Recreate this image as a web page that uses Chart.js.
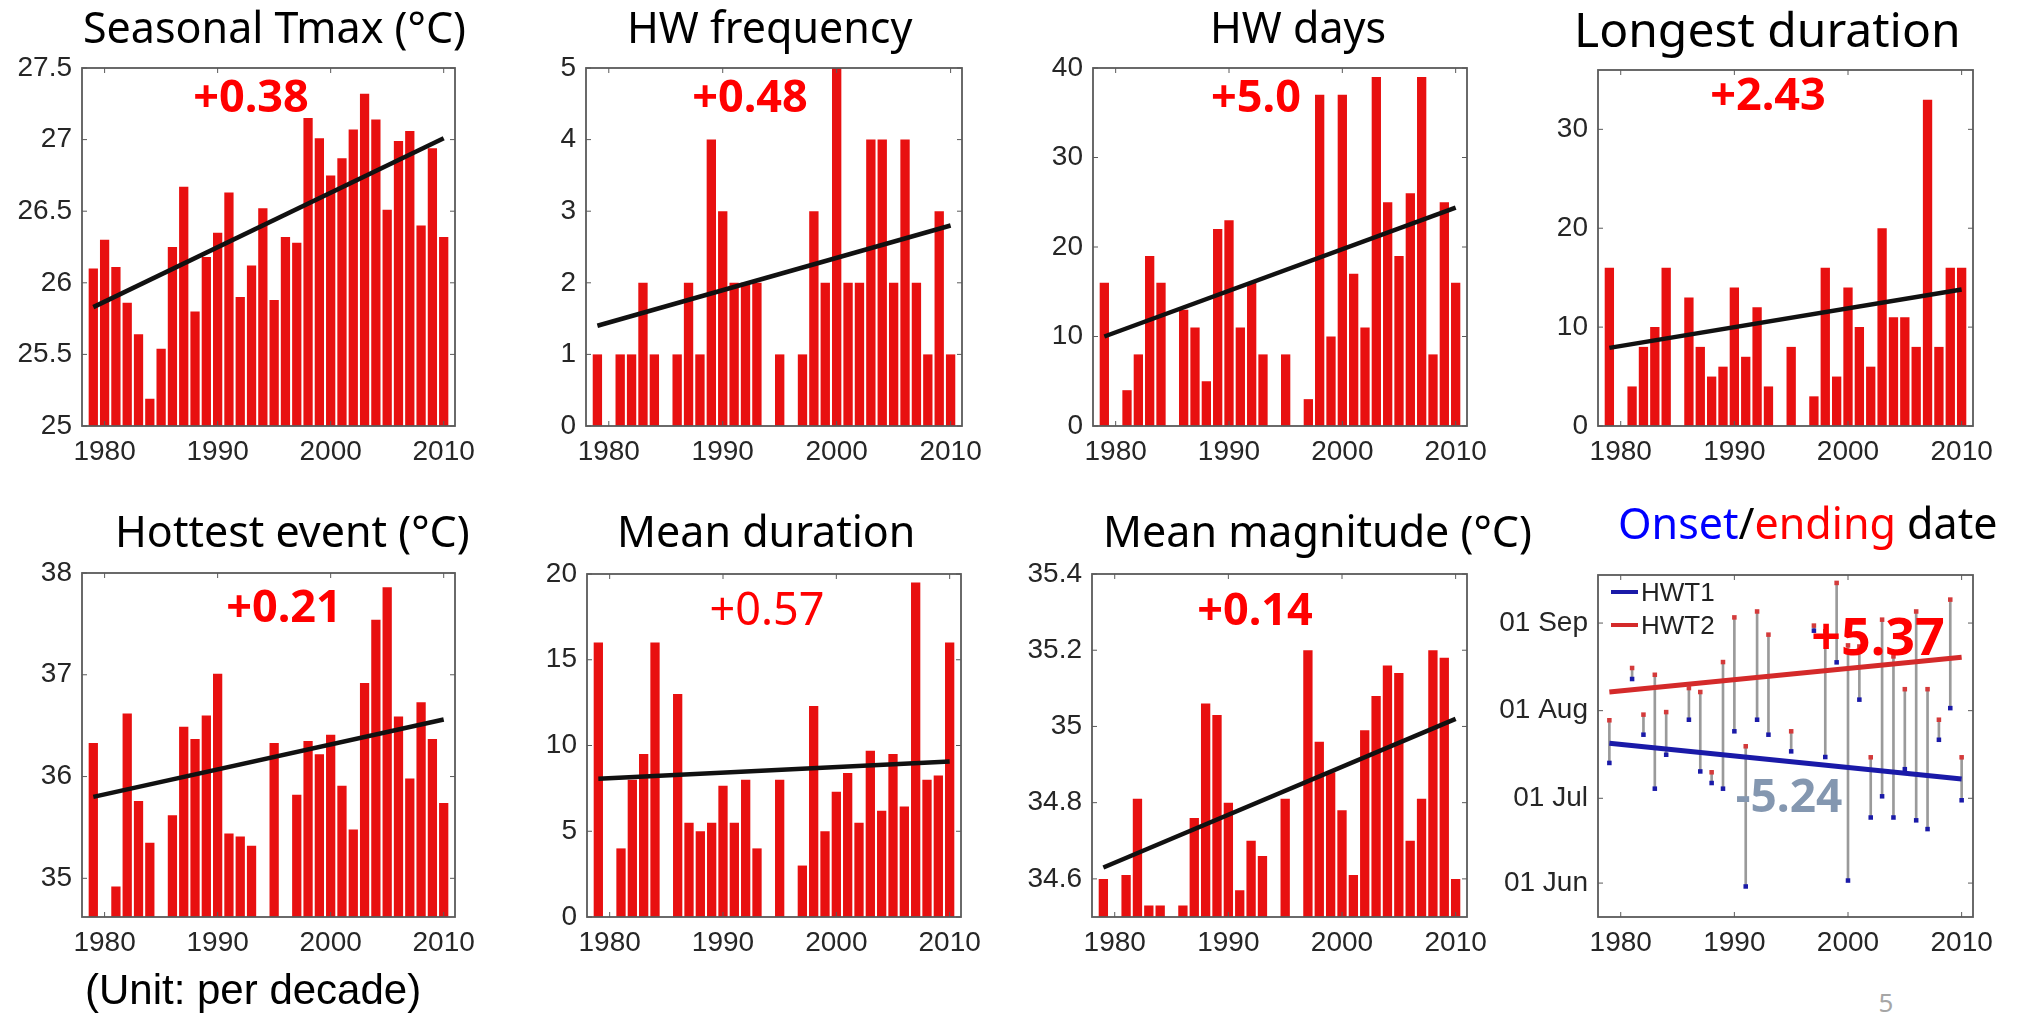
<!DOCTYPE html>
<html>
<head>
<meta charset="utf-8">
<script src="https://cdn.jsdelivr.net/npm/chart.js@4.4.0/dist/chart.umd.min.js"></script>
<style>
  body { margin: 0; width: 2018px; height: 1033px; background: #fff; position: relative; overflow: hidden; }
  canvas { position: absolute; }
  .txt { position: absolute; white-space: nowrap; line-height: 1; font-family: "Noto Sans", sans-serif; }
</style>
</head>
<body>
<script>
// Years and axis ticks
const years = [1979, 1980, 1981, 1982, 1983, 1984, 1985, 1986, 1987, 1988, 1989, 1990, 1991, 1992, 1993, 1994,
               1995, 1996, 1997, 1998, 1999, 2000, 2001, 2002, 2003, 2004, 2005, 2006, 2007, 2008, 2009, 2010];
const xTicks = [1980, 1990, 2000, 2010];
const trendYears = [1979, 2010];

// Seasonal Tmax
const tmax = [26.10, 26.30, 26.11, 25.86, 25.64, 25.19, 25.54, 26.25, 26.67, 25.80, 26.18, 26.35, 26.63, 25.90, 26.12, 26.52,
              25.88, 26.32, 26.28, 27.15, 27.01, 26.75, 26.87, 27.07, 27.32, 27.14, 26.51, 26.99, 27.06, 26.40, 26.94, 26.32];
const tmaxTrend = [25.83, 27.01];
const tmaxTicks = [25, 25.5, 26, 26.5, 27, 27.5];

// HW frequency
const hwFreq = [1, 0, 1, 1, 2, 1, 0, 1, 2, 1, 4, 3, 2, 2, 2, 0,
                1, 0, 1, 3, 2, 5, 2, 2, 4, 4, 2, 4, 2, 1, 3, 1];
const hwFreqTrend = [1.40, 2.80];
const hwFreqTicks = [0, 1, 2, 3, 4, 5];

// HW days
const hwDays = [16, 0, 4, 8, 19, 16, 0, 13, 11, 5, 22, 23, 11, 16, 8, 0,
                8, 0, 3, 37, 10, 37, 17, 11, 39, 25, 19, 26, 39, 8, 25, 16];
const hwDaysTrend = [10.0, 24.4];
const hwDaysTicks = [0, 10, 20, 30, 40];

// Longest duration
const longest = [16, 0, 4, 8, 10, 16, 0, 13, 8, 5, 6, 14, 7, 12, 4, 0,
                 8, 0, 3, 16, 5, 14, 10, 6, 20, 11, 11, 8, 33, 8, 16, 16];
const longestTrend = [7.9, 13.8];
const longestTicks = [0, 10, 20, 30];

// Hottest event
const hottest = [36.33, null, 34.92, 36.62, 35.76, 35.35, null, 35.62, 36.49, 36.37, 36.60, 37.01, 35.44, 35.41, 35.32, null,
                 36.33, null, 35.82, 36.35, 36.22, 36.41, 35.91, 35.48, 36.92, 37.54, 37.86, 36.59, 35.98, 36.73, 36.37, 35.74];
const hottestTrend = [35.80, 36.56];
const hottestTicks = [35, 36, 37, 38];

// Mean duration
const meanDur = [16, null, 4, 8, 9.5, 16, null, 13, 5.5, 5, 5.5, 7.65, 5.5, 8, 4, null,
                 8, null, 3, 12.3, 5, 7.3, 8.4, 5.5, 9.7, 6.2, 9.5, 6.45, 19.5, 8, 8.25, 16];
const meanDurTrend = [8.06, 9.07];
const meanDurTicks = [0, 5, 10, 15, 20];

// Mean magnitude
const meanMag = [34.60, null, 34.61, 34.81, 34.53, 34.53, null, 34.53, 34.76, 35.06, 35.03, 34.80, 34.57, 34.70, 34.66, null,
                 34.81, null, 35.20, 34.96, 34.88, 34.78, 34.61, 34.99, 35.08, 35.16, 35.14, 34.70, 34.81, 35.20, 35.18, 34.60];
const meanMagTrend = [34.63, 35.02];
const meanMagTicks = [34.6, 34.8, 35, 35.2, 35.4];

// Onset / ending date (day of year)
const onset = [194.5, null, 224.2, 204.5, 185.4, 197.4, null, 209.8, 191.5, 187.4, 185.4, 205.7, 150.8, 209.8, 204.5, null,
               198.6, null, 241.3, 196.6, 230.1, 152.9, 216.9, 175.2, 182.7, 175.2, 192.3, 174.2, 171.1, 202.7, 213.9, 181.3];
const ending = [209.6, null, 228.1, 211.6, 225.7, 212.5, null, 221.0, 219.6, 191.2, 230.2, 246.0, 200.4, 248.1, 239.9, null,
                205.7, null, 243.1, 241.1, 258.2, 236.1, 235.7, 196.5, 245.2, 232.2, 220.6, 248.1, 220.6, 209.8, 252.3, 196.5];
const onsetTrend = [201.5, 188.8];
const endingTrend = [219.6, 231.9];
const dateTicks = [152, 182, 213, 244];
const dateTickLabels = ["01 Jun", "01 Jul", "01 Aug", "01 Sep"];
const seriesNames = ["HWT1", "HWT2"];

const TP = 30, RP = 40, XH = 50;
const RED = '#e81010';
Chart.defaults.font.family = '"Liberation Sans", Arial, sans-serif';

// frame with inward tick marks (matlab style)
const framePlugin = {
  id: 'frame',
  afterDatasetsDraw(chart) {
    const { ctx, chartArea: a, scales } = chart;
    ctx.save();
    ctx.strokeStyle = '#5a5a5a';
    ctx.lineWidth = 1;
    ctx.beginPath();
    scales.x.ticks.forEach(t => {
      const px = scales.x.getPixelForValue(t.value);
      ctx.moveTo(px, a.bottom); ctx.lineTo(px, a.bottom - 5);
      ctx.moveTo(px, a.top); ctx.lineTo(px, a.top + 5);
    });
    scales.y.ticks.forEach(t => {
      const py = scales.y.getPixelForValue(t.value);
      ctx.moveTo(a.left, py); ctx.lineTo(a.left + 5, py);
      ctx.moveTo(a.right, py); ctx.lineTo(a.right - 5, py);
    });
    ctx.stroke();
    ctx.lineWidth = 1.8;
    ctx.strokeRect(a.left, a.top, a.right - a.left, a.bottom - a.top);
    ctx.restore();
  }
};

function addCanvas(box, yw) {
  const c = document.createElement('canvas');
  c.width = box.w + yw + RP;
  c.height = box.h + TP + XH;
  c.style.left = (box.l - yw) + 'px';
  c.style.top = (box.t - TP) + 'px';
  document.body.appendChild(c);
  return c;
}

function scalesFor(yMin, yMax, yTicks, yw, yLabel) {
  return {
    x: {
      type: 'linear', min: 1978, max: 2011, offset: false,
      afterBuildTicks: s => { s.ticks = xTicks.map(v => ({ value: v })); },
      afterFit: s => { s.height = XH; },
      grid: { display: false, drawTicks: false },
      border: { display: false },
      ticks: { font: { size: 28 }, color: '#262626', padding: 9, maxRotation: 0, autoSkip: false, callback: v => String(v) }
    },
    y: {
      min: yMin, max: yMax,
      afterBuildTicks: s => { s.ticks = yTicks.map(v => ({ value: v })); },
      afterFit: s => { s.width = yw; },
      grid: { display: false, drawTicks: false },
      border: { display: false },
      ticks: { font: { size: 28 }, color: '#262626', padding: 10, autoSkip: false, callback: yLabel || (v => String(v)) }
    }
  };
}

function barPanel(box, values, trend, yTicks, yMin, yMax) {
  const yw = 90;
  new Chart(addCanvas(box, yw), {
    type: 'bar',
    data: {
      datasets: [
        {
          type: 'line',
          data: trendYears.map((yr, i) => ({ x: yr, y: trend[i] })),
          borderColor: '#111', borderWidth: 4.5, pointRadius: 0, order: 0
        },
        {
          type: 'bar',
          data: years.map((yr, i) => ({ x: yr, y: values[i] })),
          backgroundColor: RED, barPercentage: 0.82, categoryPercentage: 1, order: 1
        }
      ]
    },
    options: {
      responsive: false, animation: false,
      layout: { padding: { top: TP, right: RP, left: 0, bottom: 0 } },
      plugins: { legend: { display: false }, tooltip: { enabled: false } },
      scales: scalesFor(yMin, yMax, yTicks, yw)
    },
    plugins: [framePlugin]
  });
}

barPanel({ l: 82, t: 68, w: 373, h: 358 }, tmax, tmaxTrend, tmaxTicks, 25, 27.5);
barPanel({ l: 586, t: 68, w: 376, h: 358 }, hwFreq, hwFreqTrend, hwFreqTicks, 0, 5);
barPanel({ l: 1093, t: 68, w: 374, h: 358 }, hwDays, hwDaysTrend, hwDaysTicks, 0, 40);
barPanel({ l: 1598, t: 70, w: 375, h: 356 }, longest, longestTrend, longestTicks, 0, 36);
barPanel({ l: 82, t: 573, w: 373, h: 344 }, hottest, hottestTrend, hottestTicks, 34.62, 38);
barPanel({ l: 587, t: 574, w: 374, h: 343 }, meanDur, meanDurTrend, meanDurTicks, 0, 20);
barPanel({ l: 1092, t: 574, w: 375, h: 343 }, meanMag, meanMagTrend, meanMagTicks, 34.5, 35.4);

// legend inside the date panel
const dateLegend = {
  id: 'dateLegend',
  afterDraw(chart) {
    const { ctx, chartArea: a } = chart;
    const cols = ['#1a1aa8', '#d42a2a'];
    ctx.save();
    ctx.font = '26px "Liberation Sans", Arial, sans-serif';
    ctx.fillStyle = '#222';
    seriesNames.forEach((name, i) => {
      const y = a.top + 17 + i * 33;
      ctx.strokeStyle = cols[i];
      ctx.lineWidth = 4;
      ctx.beginPath(); ctx.moveTo(a.left + 13, y); ctx.lineTo(a.left + 40, y); ctx.stroke();
      ctx.fillText(name, a.left + 43, y + 9);
    });
    ctx.restore();
  }
};

(function datePanel() {
  const box = { l: 1598, t: 575, w: 375, h: 342 };
  const yw = 110;
  new Chart(addCanvas(box, yw), {
    type: 'bar',
    data: {
      datasets: [
        {
          type: 'bar',
          data: years.map((yr, i) => ({ x: yr, y: onset[i] == null ? null : [onset[i], ending[i]] })),
          backgroundColor: '#9a9a9a', barThickness: 2, order: 3
        },
        {
          type: 'line', label: seriesNames[0],
          data: trendYears.map((yr, i) => ({ x: yr, y: onsetTrend[i] })),
          borderColor: '#1a1aa8', borderWidth: 5, pointRadius: 0, order: 2
        },
        {
          type: 'line', label: seriesNames[1],
          data: trendYears.map((yr, i) => ({ x: yr, y: endingTrend[i] })),
          borderColor: '#d42a2a', borderWidth: 5, pointRadius: 0, order: 2
        },
        {
          type: 'line', showLine: false,
          data: years.map((yr, i) => ({ x: yr, y: onset[i] })),
          pointStyle: 'rect', pointRadius: 3.2, pointBorderWidth: 0, pointBackgroundColor: '#1a1aa8', order: 1
        },
        {
          type: 'line', showLine: false,
          data: years.map((yr, i) => ({ x: yr, y: ending[i] })),
          pointStyle: 'rect', pointRadius: 3.2, pointBorderWidth: 0, pointBackgroundColor: '#d43a3a', order: 1
        }
      ]
    },
    options: {
      responsive: false, animation: false,
      layout: { padding: { top: TP, right: RP, left: 0, bottom: 0 } },
      plugins: { legend: { display: false }, tooltip: { enabled: false } },
      scales: scalesFor(140, 261, dateTicks, yw, v => dateTickLabels[dateTicks.indexOf(v)])
    },
    plugins: [framePlugin, dateLegend]
  });
})();

// titles and trend labels (html text)
function addText(html, x, baseline, size, opts) {
  opts = opts || {};
  const d = document.createElement('div');
  d.className = 'txt';
  d.innerHTML = html;
  d.style.fontSize = size + 'px';
  if (opts.family) d.style.fontFamily = opts.family;
  if (opts.weight) d.style.fontWeight = opts.weight;
  d.style.color = opts.color || '#000';
  const asc = opts.asc || 0.888;
  d.style.top = (baseline - asc * size) + 'px';
  d.style.left = x + 'px';
  if (opts.center) d.style.transform = 'translateX(-50%)';
  document.body.appendChild(d);
}

const titles = ["Seasonal Tmax (°C)", "HW frequency", "HW days", "Longest duration",
                "Hottest event (°C)", "Mean duration", "Mean magnitude (°C)"];
addText(titles[0], 83, 43, 43);
addText(titles[1], 627, 43, 43);
addText(titles[2], 1210, 43, 43);
addText(titles[3], 1574, 48, 48);
addText(titles[4], 115, 547, 43);
addText(titles[5], 617, 547, 43);
addText(titles[6], 1103, 547, 43);
addText('<span style="color:#0000ff">Onset</span>/<span style="color:#ff0000">ending</span> date', 1618, 539, 43);

const trendLabels = ["+0.38", "+0.48", "+5.0", "+2.43", "+0.21", "+0.57", "+0.14", "+5.37", "-5.24"];
addText(trendLabels[0], 251, 112, 45, { center: true, weight: 700, color: '#ff0000' });
addText(trendLabels[1], 750, 112, 45, { center: true, weight: 700, color: '#ff0000' });
addText(trendLabels[2], 1256, 112, 45, { center: true, weight: 700, color: '#ff0000' });
addText(trendLabels[3], 1768, 110, 45, { center: true, weight: 700, color: '#ff0000' });
addText(trendLabels[4], 284, 622, 45, { center: true, weight: 700, color: '#ff0000' });
addText(trendLabels[5], 767, 625, 45, { center: true, color: '#ff0000' });
addText(trendLabels[6], 1255, 625, 45, { center: true, weight: 700, color: '#ff0000' });
addText(trendLabels[7], 1878, 655, 52, { center: true, weight: 700, color: '#ff0000' });
addText(trendLabels[8], 1789, 812, 46, { center: true, weight: 700, color: '#8497b0' });

addText("(Unit: per decade)", 85, 1005, 42, { family: '"Liberation Sans", Arial, sans-serif', asc: 0.8465 });
addText("5", 1886, 1012, 26, { center: true, color: '#a6a6a6' });
</script>
</body>
</html>
